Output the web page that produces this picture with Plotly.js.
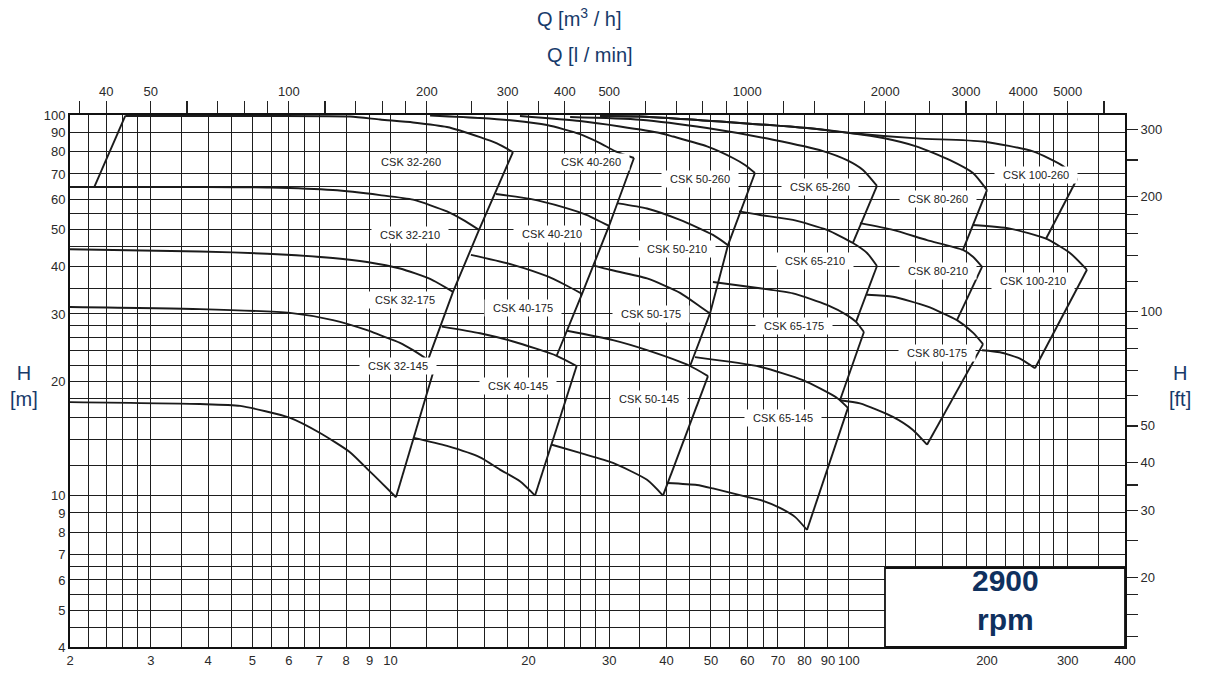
<!DOCTYPE html>
<html>
<head>
<meta charset="utf-8">
<script src="https://cdn.plot.ly/plotly-3.0.1.min.js"></script>
<style>html,body{margin:0;padding:0;background:#fff;}</style>
</head>
<body>
<div id="chart" style="width:1207px;height:674px;"></div>
<script>
// ---------- axes / ticks ----------
const GRID_Q = [2,2.2,2.4,2.6,2.8,3,3.5,4,4.5,5,5.5,6,6.5,7,8,9,10,12,14,16,18,20,22,24,26,28,30,35,40,45,50,55,60,65,70,80,90,100,120,140,160,180,200,220,240,260,280,300,350,400];
const Q_LABELS = [2,3,4,5,6,7,8,9,10,20,30,40,50,60,70,80,90,100,200,300,400];
const GRID_H = [4,4.5,5,5.5,6,6.5,7,8,9,10,12,14,16,18,20,22,24,26,28,30,35,40,45,50,55,60,65,70,80,90,100];
const H_LABELS = [4,5,6,7,8,9,10,20,30,40,50,60,70,80,90,100];
const LMIN_TICKS = [35,40,50,60,70,80,90,100,120,140,160,180,200,250,300,350,400,500,600,700,800,900,1000,1200,1400,1800,2000,2500,3000,3500,4000,5000,6000];
const LMIN_LABELS = [40,50,100,200,300,400,500,1000,2000,3000,4000,5000];
const FT_TICKS = [14,16,18,20,25,30,35,40,50,60,70,80,90,100,120,140,160,180,200,250,300];
const FT_LABELS = [20,30,40,50,100,200,300];
const Q_MIN = 2, Q_MAX = 400, H_MIN = 4, H_MAX = 100;
const M3H_TO_LMIN = 1000 / 60;
const M_TO_FT = 1 / 0.3048;

// ---------- CSK 32 ----------
const Q32_LEFT = [2.26, 2.64];
const H32_LEFT = [64.7, 99.4];
const Q32_A = [2.64, 4.94, 8.16, 9.49, 11.2, 13.28, 15.68, 17.07, 18.5];
const H32_A = [99.4, 99.4, 99.1, 97.3, 95.6, 93.0, 87.5, 84.2, 79.9];
const Q32_B = [2, 3.84, 5.46, 7.49, 9.49, 11.2, 13.28, 14.4, 15.6];
const H32_B = [64.7, 64.7, 64.5, 63.5, 61.6, 59.9, 55.8, 53.0, 49.9];
const Q32_C = [2, 3.84, 5.38, 7.49, 8.89, 10.49, 12.2, 13.69];
const H32_C = [44.4, 43.8, 43.2, 42.1, 41.1, 39.5, 37.1, 34.3];
const Q32_D = [2, 3.84, 6.04, 7.49, 8.89, 9.49, 10.49, 11.2, 12.07, 12.51];
const H32_D = [31.3, 30.9, 30.2, 28.9, 27.2, 26.4, 25.2, 24.1, 22.7, 21.9];
const Q32_E = [2, 3.84, 4.70, 6.04, 7.02, 8.16, 8.93, 9.49, 10.28];
const H32_E = [17.6, 17.4, 17.2, 16.0, 14.6, 13.0, 11.7, 10.9, 9.9];
const Q32_EDGE = [18.5, 15.6, 13.69, 12.07, null, 12.51, 10.28];
const H32_EDGE = [79.9, 49.9, 34.3, 22.7, null, 21.9, 9.9];

// ---------- CSK 40 ----------
const Q40_A = [12.2, 15.68, 18.5, 21.95, 25.91, 28.64, 30.88, 33.97];
const H40_A = [99.7, 98.2, 96.7, 94.1, 89.1, 84.4, 80.4, 77.1];
const Q40_B = [16.99, 20.16, 23.78, 26.84, 29.97];
const H40_B = [62.0, 60.2, 57.3, 54.6, 51.1];
const Q40_C = [14.98, 18.5, 21.95, 24.02, 26.17];
const H40_C = [42.9, 40.4, 37.7, 35.8, 33.9];
const Q40_D = [12.94, 15.68, 18.52, 23.04, 25.47];
const H40_D = [27.8, 26.7, 25.4, 23.3, 21.9];
const Q40_E = [11.2, 13.28, 15.68, 17.33, 19.16, 20.67];
const H40_E = [14.2, 13.5, 12.6, 11.7, 10.9, 10.0];
const Q40_EDGE = [33.97, 29.97, 26.17, 23.04, null, 25.47, 20.67];
const H40_EDGE = [77.1, 51.1, 33.9, 23.3, null, 21.9, 10.0];

// ---------- CSK 50 ----------
const Q50_A = [19.16, 25.91, 31.67, 38.71, 41.33, 49.02, 55.85, 59.33, 62.37];
const H50_A = [99.4, 96.4, 93.3, 89.7, 87.8, 82.7, 77.1, 73.9, 70.4];
const Q50_B = [31.35, 36.27, 42.81, 50.51, 54.47];
const H50_B = [58.6, 56.8, 53.0, 48.4, 45.5];
const Q50_C = [27.8, 30.12, 36.27, 42.81, 47.32, 49.77];
const H50_C = [40.2, 39.2, 37.2, 34.1, 31.4, 30.1];
const Q50_D = [24.27, 30.57, 36.27, 45.02, 49.27];
const H50_D = [27.1, 25.6, 24.1, 21.9, 20.6];
const Q50_E = [22.5, 25.91, 30.57, 36.27, 39.3];
const H50_E = [13.6, 12.94, 12.18, 11.0, 10.0];
const Q50_EDGE = [62.37, 54.47, 49.77, 45.02, null, 49.27, 39.3];
const H50_EDGE = [70.4, 45.5, 30.1, 21.9, null, 20.6, 10.0];

// ---------- CSK 65 ----------
const Q65_A = [24.65, 35.02, 49.02, 68.3, 87.8, 99.0, 107.3, 115.1];
const H65_A = [98.8, 97.2, 92.4, 86.1, 80.4, 76.1, 71.7, 65.1];
const Q65_B = [57.56, 63.96, 75.48, 89.54, 102.0, 109.5, 115.1];
const H65_B = [55.8, 54.6, 53.0, 49.9, 46.1, 43.4, 40.1];
const Q65_C = [50.51, 63.96, 75.48, 89.54, 99.0, 103.6, 107.8];
const H65_C = [36.4, 35.05, 34.0, 31.7, 29.8, 28.6, 26.9];
const Q65_D = [46.15, 63.96, 79.36, 94.2, 99.5];
const H65_D = [23.1, 21.8, 20.1, 18.05, 17.0];
const Q65_E = [40.1, 46.6, 50.51, 59.9, 63.96, 70.7, 76.25, 81.0];
const H65_E = [10.79, 10.66, 10.44, 9.92, 9.74, 9.28, 8.79, 8.12];
const Q65_EDGE = [115.1, 102.0, null, 115.1, 103.6, null, 107.8, 95.6, null, 99.5, 81.0];
const H65_EDGE = [65.1, 46.1, null, 40.1, 28.6, null, 26.9, 17.8, null, 17.0, 8.12];

// ---------- CSK 80 ----------
const Q80_A = [28.64, 35.02, 57.85, 81.0, 100.5, 118.7, 140.7, 166.1, 186.4, 200.0];
const H80_A = [99.4, 99.1, 95.3, 92.4, 89.7, 87.0, 82.6, 76.1, 70.4, 63.5];
const Q80_B = [105.7, 124.7, 148.0, 177.3, 186.4, 195.1];
const H80_B = [52.0, 49.9, 46.9, 44.2, 42.4, 39.9];
const Q80_C = [109.5, 124.7, 148.0, 172.0, 186.4, 196.1];
const H80_C = [33.7, 33.3, 31.4, 28.9, 26.8, 25.0];
const Q80_D = [95.6, 105.7, 124.7, 137.9, 148.0];
const H80_D = [17.8, 17.46, 16.09, 14.87, 13.6];
const Q80_EDGE = [200.0, 177.3, null, 195.1, 172.0, null, 196.1, 148.0];
const H80_EDGE = [63.5, 44.2, null, 39.9, 28.9, null, 25.0, 13.6];

// ---------- CSK 100 ----------
const Q100_A = [28.64, 35.02, 57.85, 81.0, 100.5, 140.7, 196.1, 252.0, 293.0, 314.3];
const H100_A = [99.4, 99.1, 95.3, 92.4, 89.7, 86.8, 85.2, 80.2, 73.4, 67.9];
const Q100_B = [186.4, 224.5, 269.0, 303.4, 330.4];
const H100_B = [51.4, 50.3, 47.3, 43.4, 39.2];
const Q100_C = [195.1, 213.5, 236.1, 254.5];
const H100_C = [24.1, 23.8, 22.9, 21.6];
const Q100_EDGE = [314.3, 269.0, null, 330.4, 254.5];
const H100_EDGE = [67.9, 47.3, null, 39.2, 21.6];

// ---------- labels ----------
const MODEL_LABELS = ['CSK 32-260','CSK 32-210','CSK 32-175','CSK 32-145',
  'CSK 40-260','CSK 40-210','CSK 40-175','CSK 40-145',
  'CSK 50-260','CSK 50-210','CSK 50-175','CSK 50-145',
  'CSK 65-260','CSK 65-210','CSK 65-175','CSK 65-145',
  'CSK 80-260','CSK 80-210','CSK 80-175',
  'CSK 100-260','CSK 100-210'];
const LABEL_ANCHORS = [[11.09,75.2],[11.03,48.4],[10.76,32.7],[10.39,21.9],
  [27.37,75.2],[22.5,48.7],[19.45,31.1],[18.97,19.4],
  [47.32,67.9],[42.17,44.4],[37.0,30.0],[36.6,17.9],
  [86.5,64.7],[84.3,41.3],[75.9,27.9],[71.8,16.0],
  [156.4,60.2],[156.4,38.9],[155.6,23.7],
  [255.9,69.6],[252.0,36.6]];

// ---------- build ----------
const CURVES = [
  [Q32_A,H32_A],[Q32_B,H32_B],[Q32_C,H32_C],[Q32_D,H32_D],[Q32_E,H32_E],
  [Q40_A,H40_A],[Q40_B,H40_B],[Q40_C,H40_C],[Q40_D,H40_D],[Q40_E,H40_E],
  [Q50_A,H50_A],[Q50_B,H50_B],[Q50_C,H50_C],[Q50_D,H50_D],[Q50_E,H50_E],
  [Q65_A,H65_A],[Q65_B,H65_B],[Q65_C,H65_C],[Q65_D,H65_D],[Q65_E,H65_E],
  [Q80_A,H80_A],[Q80_B,H80_B],[Q80_C,H80_C],[Q80_D,H80_D],
  [Q100_A,H100_A],[Q100_B,H100_B],[Q100_C,H100_C]
];
const EDGES = [
  [Q32_LEFT,H32_LEFT],[Q32_EDGE,H32_EDGE],[Q40_EDGE,H40_EDGE],[Q50_EDGE,H50_EDGE],
  [Q65_EDGE,H65_EDGE],[Q80_EDGE,H80_EDGE],[Q100_EDGE,H100_EDGE]
];

const INK = '#1b1b1b';
const traces = [];
CURVES.forEach(([q,h]) => traces.push({
  x:q, y:h, type:'scatter', mode:'lines', hoverinfo:'skip', showlegend:false,
  line:{color:INK, width:1.9, shape:'spline', smoothing:0.6}
}));
EDGES.forEach(([q,h]) => traces.push({
  x:q, y:h, type:'scatter', mode:'lines', hoverinfo:'skip', showlegend:false, connectgaps:false,
  line:{color:INK, width:1.9}
}));
// invisible carrier for the secondary (l/min, ft) axes
traces.push({x:[LMIN_TICKS[0], LMIN_TICKS[LMIN_TICKS.length-1]], y:[FT_TICKS[0], FT_TICKS[FT_TICKS.length-1]],
  xaxis:'x2', yaxis:'y2', type:'scatter', mode:'lines', opacity:0, hoverinfo:'skip', showlegend:false,
  line:{width:0.1}});

const lbl = (vals, shown) => vals.map(v => shown.includes(v) ? String(v) : '');
const FONT = 'Liberation Sans, Arial, Helvetica, sans-serif';
const tickFont = {family:FONT, size:13, color:'#2a2a2a'};
const NAVY = '#173a6a';
const GRID = '#1e1e1e';

const annotations = MODEL_LABELS.map((t,i) => ({
  xref:'x', yref:'y', x:Math.log10(LABEL_ANCHORS[i][0]), y:Math.log10(LABEL_ANCHORS[i][1]),
  text:'\u00a0\u00a0' + t + '\u00a0\u00a0', showarrow:false, bgcolor:'#ffffff', borderpad:2,
  font:{family:FONT, size:11, color:'#222'}
}));
const pa = (x, y, text, size, color) => ({xref:'paper', yref:'paper', x:x, y:y, text:text,
  showarrow:false, xanchor:'center', yanchor:'middle', font:{family:FONT, size:size, color:color}});
annotations.push(pa(0.4834, 1.1842, 'Q [m<sup>3</sup> / h]', 20, NAVY));
annotations.push(pa(0.4929, 1.1128, 'Q [l / min]', 20, NAVY));
annotations.push(pa(-0.0435, 0.4906, 'H<br>[m]', 20, NAVY));
annotations.push(pa(1.0525, 0.4906, 'H<br>[ft]', 20, NAVY));
annotations.push(pa(0.8863, 0.0883, '<b>2900</b><br><b>rpm</b>', 30, '#0f305e'));

const layout = {
  width:1207, height:674,
  margin:{l:70, r:82, t:115, b:27, pad:0},
  paper_bgcolor:'#ffffff', plot_bgcolor:'#ffffff',
  showlegend:false,
  xaxis:{type:'log', range:[Math.log10(Q_MIN), Math.log10(Q_MAX)], tickmode:'array',
    tickvals:GRID_Q, ticktext:lbl(GRID_Q, Q_LABELS), ticks:'', showgrid:true, gridcolor:GRID, gridwidth:1,
    showline:true, linecolor:'#111', linewidth:2, mirror:true, zeroline:false, tickfont:tickFont, fixedrange:true},
  yaxis:{type:'log', range:[Math.log10(H_MIN), Math.log10(H_MAX)], tickmode:'array',
    tickvals:GRID_H, ticktext:lbl(GRID_H, H_LABELS), ticks:'', showgrid:true, gridcolor:GRID, gridwidth:1,
    showline:true, linecolor:'#111', linewidth:2, mirror:true, zeroline:false, tickfont:tickFont, fixedrange:true},
  xaxis2:{type:'log', overlaying:'x', side:'top', anchor:'y',
    range:[Math.log10(Q_MIN*M3H_TO_LMIN), Math.log10(Q_MAX*M3H_TO_LMIN)], tickmode:'array',
    tickvals:LMIN_TICKS, ticktext:lbl(LMIN_TICKS, LMIN_LABELS), ticks:'outside', ticklen:12, tickwidth:1.3, tickcolor:'#222',
    showgrid:false, showline:true, linecolor:'#111', linewidth:2, zeroline:false, tickfont:tickFont, fixedrange:true},
  yaxis2:{type:'log', overlaying:'y', side:'right', anchor:'x',
    range:[Math.log10(H_MIN*M_TO_FT), Math.log10(H_MAX*M_TO_FT)], tickmode:'array',
    tickvals:FT_TICKS, ticktext:lbl(FT_TICKS, FT_LABELS), ticks:'outside', ticklen:11, tickwidth:1.3, tickcolor:'#222',
    showgrid:false, showline:true, linecolor:'#111', linewidth:2, zeroline:false, tickfont:tickFont, fixedrange:true},
  shapes:[{type:'rect', xref:'paper', yref:'paper', x0:0.7725, x1:1, y0:0, y1:0.1485,
    fillcolor:'#ffffff', line:{color:'#111', width:1.8}, layer:'above'}],
  annotations:annotations
};

Plotly.newPlot('chart', traces, layout, {staticPlot:true, displayModeBar:false});
</script>
</body>
</html>
